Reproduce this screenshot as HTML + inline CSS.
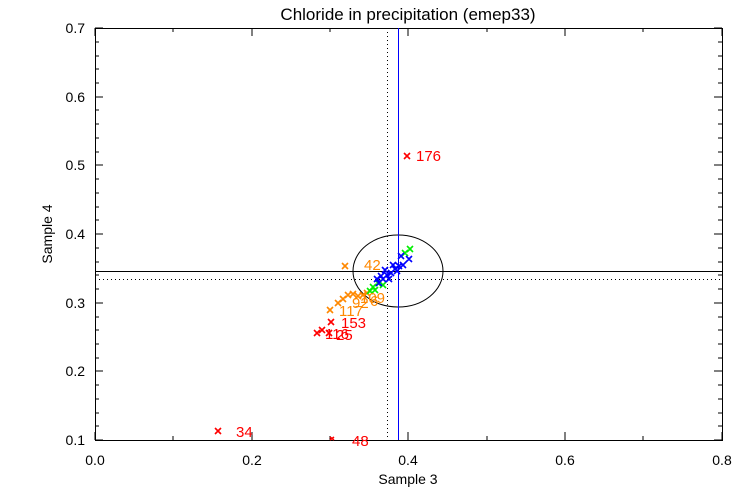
<!DOCTYPE html>
<html><head><style>body{margin:0;background:#fff}svg{display:block}text{font-family:"Liberation Sans",sans-serif}</style></head><body>
<svg width="750" height="500" viewBox="0 0 750 500" xmlns="http://www.w3.org/2000/svg">
<rect width="750" height="500" fill="#fff"/>
<g stroke="#000" fill="none" stroke-width="1">
<rect x="95.5" y="28.5" width="627" height="412"/>
<!-- x ticks -->
<path d="M95 440v-8M173 440v-4M252 440v-8M330 440v-4M408 440v-8M487 440v-4M565 440v-8M643 440v-4M722 440v-8
M95 28v8M173 28v4M252 28v8M330 28v4M408 28v8M487 28v4M565 28v8M643 28v4M722 28v8"/>
<path d="M95 440h8M95 371h8M95 303h8M95 234h8M95 165h8M95 97h8M95 28h8
M722 440h-8M722 371h-8M722 303h-8M722 234h-8M722 165h-8M722 97h-8M722 28h-8"/>
<path d="M95 426h4M95 413h4M95 399h4M95 385h4M95 358h4M95 344h4M95 330h4M95 317h4M95 289h4M95 275h4M95 262h4M95 248h4M95 220h4M95 207h4M95 193h4M95 179h4M95 152h4M95 138h4M95 124h4M95 110h4M95 83h4M95 69h4M95 56h4M95 42h4
M722 426h-4M722 413h-4M722 399h-4M722 385h-4M722 358h-4M722 344h-4M722 330h-4M722 317h-4M722 289h-4M722 275h-4M722 262h-4M722 248h-4M722 220h-4M722 207h-4M722 193h-4M722 179h-4M722 152h-4M722 138h-4M722 124h-4M722 110h-4M722 83h-4M722 69h-4M722 56h-4M722 42h-4"/>
<path d="M95 271.5h627"/>
<path d="M95 279.5h627" stroke-dasharray="1,3"/>
<path d="M387.5 28v412" stroke-dasharray="1,3"/>
<ellipse cx="398" cy="271" rx="45" ry="36"/>
</g>
<path d="M398.5 28v412" stroke="#00f"/>
<g font-size="14" fill="#000">
<text x="95" y="465" text-anchor="middle">0.0</text>
<text x="252" y="465" text-anchor="middle">0.2</text>
<text x="408" y="465" text-anchor="middle">0.4</text>
<text x="565" y="465" text-anchor="middle">0.6</text>
<text x="722" y="465" text-anchor="middle">0.8</text>
<text x="85" y="445" text-anchor="end">0.1</text>
<text x="85" y="376" text-anchor="end">0.2</text>
<text x="85" y="308" text-anchor="end">0.3</text>
<text x="85" y="239" text-anchor="end">0.4</text>
<text x="85" y="170" text-anchor="end">0.5</text>
<text x="85" y="102" text-anchor="end">0.6</text>
<text x="85" y="33" text-anchor="end">0.7</text>
<text x="408" y="484" text-anchor="middle">Sample 3</text>
<text x="52" y="234" text-anchor="middle" transform="rotate(-90 52 234)">Sample 4</text>
<text x="408" y="20" text-anchor="middle" font-size="17">Chloride in precipitation (emep33)</text>
</g>
<g stroke-width="1.6" fill="none">
<g stroke="#f00">
<path d="M404 153l6 6m0-6l-6 6M215 428l6 6m0-6l-6 6M328 319l6 6m0-6l-6 6M314 330l6 6m0-6l-6 6M319 327l6 6m0-6l-6 6M326 330l6 6m0-6l-6 6M330 437l4 3m0-3l-4 3"/>
</g>
<g stroke="#f80">
<path d="M342 263l6 6m0-6l-6 6M327 307l6 6m0-6l-6 6M335 300l6 6m0-6l-6 6M340 296l6 6m0-6l-6 6M345 292l6 6m0-6l-6 6M350 291l6 6m0-6l-6 6M355 293l6 6m0-6l-6 6M360 292l6 6m0-6l-6 6M364 290l6 6m0-6l-6 6"/>
</g>
<g stroke="#0e0">
<path d="M407 246l6 6m0-6l-6 6M402 250l6 6m0-6l-6 6M370 284l6 6m0-6l-6 6M375 280l6 6m0-6l-6 6M367 288l6 6m0-6l-6 6M372 287l6 6m0-6l-6 6M380 282l6 6m0-6l-6 6"/>
</g>
<g stroke="#00f">
<path d="M398 253l6 6m0-6l-6 6M406 256l6 6m0-6l-6 6M392 266l6 6m0-6l-6 6M396 263l6 6m0-6l-6 6M388 270l6 6m0-6l-6 6M384 272l6 6m0-6l-6 6M380 276l6 6m0-6l-6 6M376 280l6 6m0-6l-6 6M382 267l6 6m0-6l-6 6M390 262l6 6m0-6l-6 6M386 276l6 6m0-6l-6 6M378 273l6 6m0-6l-6 6M374 276l6 6m0-6l-6 6M394 268l6 6m0-6l-6 6M400 262l6 6m0-6l-6 6"/>
</g>
</g>
<g font-size="15">
<g fill="#f00">
<text x="416" y="161">176</text>
<text x="236" y="437">34</text>
<text x="352" y="446">48</text>
<text x="341" y="328">153</text>
<text x="325" y="339">116</text>
<text x="336" y="340">25</text>
</g>
<g fill="#f80">
<text x="364" y="270">42</text>
<text x="339" y="316">117</text>
<text x="360" y="303">109</text>
<text x="352" y="308">92</text>
<text x="370" y="306">6</text>
</g>
</g>
</svg>
</body></html>
